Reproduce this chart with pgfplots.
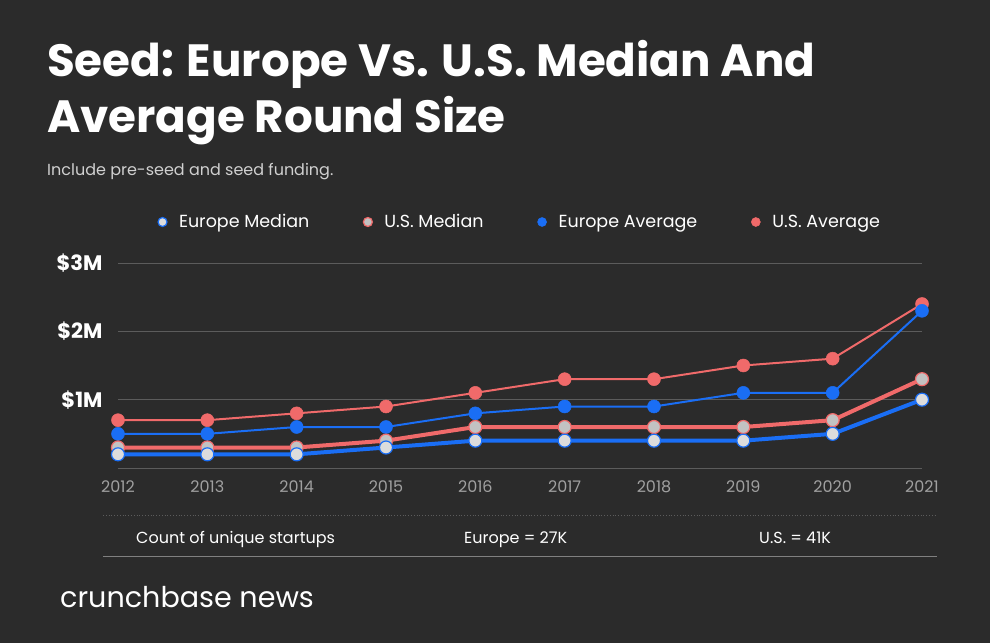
\documentclass[border=0pt]{standalone}
\usepackage{pgfplots}
\pgfplotsset{compat=1.18}
\usepackage{fontspec}
\setmainfont{Poppins}
\definecolor{bg}{HTML}{2B2B2B}
\definecolor{ured}{HTML}{F06A6A}
\definecolor{eblue}{HTML}{1A6EF5}
\definecolor{gridc}{HTML}{5C5C5C}
\definecolor{umfill}{HTML}{C2C2C2}
\definecolor{emfill}{HTML}{DCDCDC}
\definecolor{xlab}{HTML}{A0A0A0}
\definecolor{subc}{HTML}{D0D0D0}
\begin{document}
\begin{tikzpicture}[x=1pt,y=1pt]
\fill[bg] (0,0) rectangle (990,643);
\node[anchor=base west, text=white, font=\fontsize{45.2}{50}\selectfont\bfseries, inner sep=0] at (47,566) {Seed: Europe Vs. U.S. Median And};
\node[anchor=base west, text=white, font=\fontsize{45.2}{50}\selectfont\bfseries, inner sep=0] at (47,510) {Average Round Size};
\node[anchor=base west, text=subc, font=\fontsize{16}{19}\selectfont, inner sep=0] at (47,467) {Include pre-seed and seed funding.};
\begin{axis}[
  at={(118pt,175pt)}, anchor=south west, scale only axis,
  width=804pt, height=205pt,
  xmin=2012, xmax=2021, ymin=0, ymax=3, clip=false,
  axis line style={draw=none}, tick style={draw=none},
  ytick={0,1,2,3}, yticklabels={,\$1M,\$2M,\$3M},
  ymajorgrids, grid style={gridc, line width=1pt},
  xtick={2012,2013,2014,2015,2016,2017,2018,2019,2020,2021},
  xticklabels={2012,2013,2014,2015,2016,2017,2018,2019,2020,2021},
  x tick label style={text=xlab, font=\fontsize{16}{19}\selectfont, yshift=-9pt},
  y tick label style={text=white, font=\fontsize{21}{24}\selectfont\bfseries, xshift=-12pt},
  legend style={at={(0.5,1.2)}, anchor=center, draw=none, fill=none, text=white,
    font=\fontsize{17.5}{20}\selectfont, legend columns=4,
    /tikz/every even column/.append style={column sep=52pt},
    /tikz/every odd column/.append style={column sep=10pt}},
  legend image code/.code={\draw[#1, mark size=4.5pt] plot coordinates {(0cm,0cm)};},
  reverse legend,
]
\addplot[ured, line width=2pt, mark=*, mark size=6.5pt, mark options={fill=ured, draw=ured, line width=0.5pt}]
  coordinates {(2012,0.7)(2013,0.7)(2014,0.8)(2015,0.9)(2016,1.1)(2017,1.3)(2018,1.3)(2019,1.5)(2020,1.6)(2021,2.4)};
\addlegendentry{U.S. Average}
\addplot[eblue, line width=2pt, mark=*, mark size=6.5pt, mark options={fill=eblue, draw=eblue, line width=0.5pt}]
  coordinates {(2012,0.5)(2013,0.5)(2014,0.6)(2015,0.6)(2016,0.8)(2017,0.9)(2018,0.9)(2019,1.1)(2020,1.1)(2021,2.3)};
\addlegendentry{Europe Average}
\addplot[ured, line width=4pt, mark=*, mark size=6.5pt, mark options={fill=umfill, draw=ured, line width=1.2pt}]
  coordinates {(2012,0.3)(2013,0.3)(2014,0.3)(2015,0.4)(2016,0.6)(2017,0.6)(2018,0.6)(2019,0.6)(2020,0.7)(2021,1.3)};
\addlegendentry{U.S. Median}
\addplot[eblue, line width=4pt, mark=*, mark size=6.5pt, mark options={fill=emfill, draw=eblue, line width=1.2pt}]
  coordinates {(2012,0.2)(2013,0.2)(2014,0.2)(2015,0.3)(2016,0.4)(2017,0.4)(2018,0.4)(2019,0.4)(2020,0.5)(2021,1.0)};
\addlegendentry{Europe Median}
\end{axis}
\draw[gridc, dotted, line width=0.8pt] (103,128) -- (937,128);
\node[anchor=base west, text=white, font=\fontsize{16}{19}\selectfont, inner sep=0] at (136,100) {Count of unique startups};
\node[anchor=base west, text=white, font=\fontsize{16}{19}\selectfont, inner sep=0] at (464,100) {Europe = 27K};
\node[anchor=base west, text=white, font=\fontsize{16}{19}\selectfont, inner sep=0] at (759,100) {U.S. = 41K};
\draw[gray, line width=1pt] (103,87) -- (937,87);
\node[anchor=base west, text=white, font=\fontsize{28.6}{32}\selectfont, inner sep=0] at (60,36) {crunchbase news};
\end{tikzpicture}
\end{document}
